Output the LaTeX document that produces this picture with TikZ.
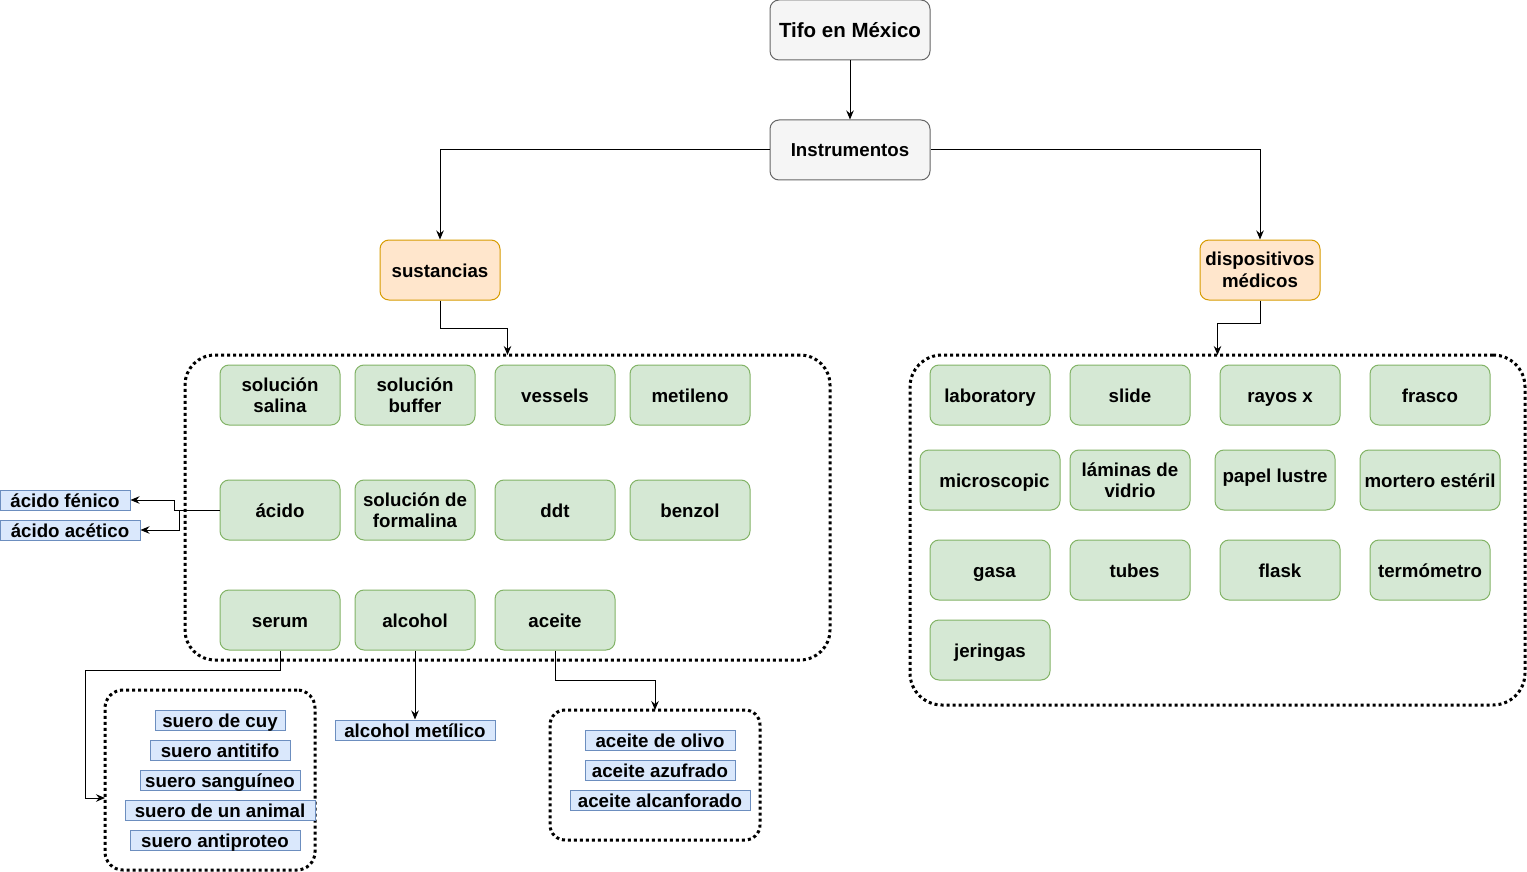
\documentclass[tikz,border=0pt]{standalone}
\usepackage{fontspec}
\setmainfont{Liberation Sans}
\usetikzlibrary{arrows.meta}
\definecolor{gfill}{HTML}{D5E8D4}
\definecolor{gline}{HTML}{82B366}
\definecolor{ofill}{HTML}{FFE6CC}
\definecolor{oline}{HTML}{D79B00}
\definecolor{bfill}{HTML}{DAE8FC}
\definecolor{bline}{HTML}{6C8EBF}
\definecolor{kfill}{HTML}{F5F5F5}
\definecolor{kline}{HTML}{666666}
\begin{document}
\begin{tikzpicture}[x=1pt,y=-1pt,
  font=\bfseries\fontsize{18.7}{21.5}\selectfont,
  base/.style={rounded corners=9pt, draw, align=center, inner sep=0pt, line width=1pt},
  one/.style={text height=17pt, text depth=3pt},
  kbox/.style={base, one, draw=kline, fill=kfill, minimum width=160pt, minimum height=60pt},
  obox/.style={base, draw=oline, fill=ofill, minimum width=120pt, minimum height=60pt},
  gbox/.style={base, draw=gline, fill=gfill, minimum width=120pt, minimum height=60pt},
  blabel/.style={draw=bline, fill=bfill, line width=1pt, inner sep=0pt, minimum height=20pt, one},
  cont/.style={draw, line width=3pt, dash pattern=on 3pt off 3pt, outer sep=0pt},
  arr/.style={-{Stealth[length=9pt,width=7.5pt,inset=3pt]}, line width=1pt}
]
\useasboundingbox (0,0) rectangle (1527,872);

% containers
\node[cont, minimum width=645pt, minimum height=305pt, rounded corners=30pt] (lbox) at (507.5,507.5) {};
\node[cont, minimum width=615pt, minimum height=350pt, rounded corners=32pt] (rbox) at (1217.5,530) {};
\node[cont, minimum width=210pt, minimum height=180pt, rounded corners=18pt] (subox) at (210,780) {};
\node[cont, minimum width=210pt, minimum height=130pt, rounded corners=15pt] (acbox) at (655,775) {};

% top
\node[kbox, text height=18.5pt, text depth=3pt, font=\bfseries\fontsize{20.5}{24}\selectfont] (tifo) at (850,30) {Tifo en México};
\node[kbox] (instr) at (850,150) {Instrumentos};
\node[obox, one] (sust) at (440,270) {sustancias};
\node[obox] (disp) at (1260,270) {dispositivos\\médicos};

% left green boxes
\node[gbox] (ss) at (280,395) {solución\\salina};
\node[gbox] (sb) at (415,395) {solución\\buffer};
\node[gbox, one] (vessels) at (555,395) {vessels};
\node[gbox, one] (metileno) at (690,395) {metileno};
\node[gbox, one] (acido) at (280,510) {ácido};
\node[gbox] (formalina) at (415,510) {solución de\\formalina};
\node[gbox, one] (ddt) at (555,510) {ddt};
\node[gbox, one] (benzol) at (690,510) {benzol};
\node[gbox, one] (serum) at (280,620) {serum};
\node[gbox, one] (alcohol) at (415,620) {alcohol};
\node[gbox, one] (aceite) at (555,620) {aceite};

% right green boxes
\node[gbox, one] (lab) at (990,395) {laboratory};
\node[gbox, one] (slide) at (1130,395) {slide};
\node[gbox, one] (rayos) at (1280,395) {rayos x};
\node[gbox, one] (frasco) at (1430,395) {frasco};
\node[gbox, one, minimum width=140pt] (micro) at (990,480) {\hspace*{9pt}microscopic};
\node[gbox] (laminas) at (1130,480) {láminas de\\vidrio};
\node[gbox, text height=13pt, text depth=8pt] (papel) at (1275,480) {papel lustre};
\node[gbox, one, minimum width=140pt] (mortero) at (1430,480) {mortero estéril};
\node[gbox, one] (gasa) at (990,570) {\hspace*{9pt}gasa};
\node[gbox, one] (tubes) at (1130,570) {\hspace*{9pt}tubes};
\node[gbox, one] (flask) at (1280,570) {flask};
\node[gbox, one] (termo) at (1430,570) {termómetro};
\node[gbox, one] (jeringas) at (990,650) {jeringas};

% blue labels
\node[blabel, minimum width=130pt] (afen) at (65,500) {ácido fénico};
\node[blabel, minimum width=140pt] (aace) at (70,530) {ácido acético};
\node[blabel, minimum width=130pt] (su1) at (220,720) {suero de cuy};
\node[blabel, minimum width=140pt] (su2) at (220,750) {suero antitifo};
\node[blabel, minimum width=160pt] (su3) at (220,780) {suero sanguíneo};
\node[blabel, minimum width=190pt] (su4) at (220,810) {suero de un animal};
\node[blabel, minimum width=170pt] (su5) at (215,840) {suero antiproteo};
\node[blabel, minimum width=160pt] (almet) at (415,730) {alcohol metílico};
\node[blabel, minimum width=150pt] (ac1) at (660,740) {aceite de olivo};
\node[blabel, minimum width=150pt] (ac2) at (660,770) {aceite azufrado};
\node[blabel, minimum width=180pt] (ac3) at (660,800) {aceite alcanforado};

% connectors
\coordinate (suin) at (105,798);
\draw[arr] (tifo) -- (instr);
\draw[arr] (instr.west) -| (sust.north);
\draw[arr] (instr.east) -| (disp.north);
\draw[arr] (sust.south) -- ++(0,28) -| (lbox.north);
\draw[arr] (disp.south) -- ++(0,23) -| (rbox.north);
\draw[arr] (acido.west) -- ++(-45,0) |- (afen.east);
\draw[arr] (acido.west) -- ++(-40,0) |- (aace.east);
\draw[arr] (serum.south) -- ++(0,20) -- ++(-195,0) |- (suin);
\draw[arr] (alcohol.south) -- (almet.north);
\draw[arr] (aceite.south) -- ++(0,30) -| (acbox.north);
\end{tikzpicture}
\end{document}
